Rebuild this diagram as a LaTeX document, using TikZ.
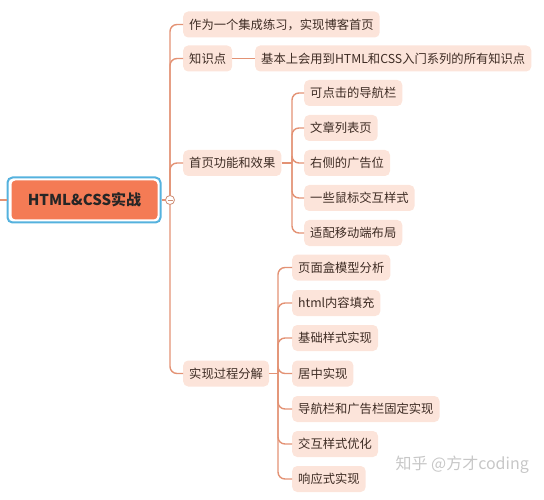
\documentclass[tikz,border=0pt]{standalone}
\usepackage{fontspec}
\setmainfont{Noto Sans CJK SC}
\definecolor{linec}{HTML}{E39274}
\definecolor{boxc}{HTML}{FCE4DA}
\definecolor{txtc}{HTML}{3E2C24}
\definecolor{rootc}{HTML}{F47B55}
\definecolor{rootb}{HTML}{55B2DE}
\begin{document}
\begin{tikzpicture}[x=1pt,y=-1pt,
  topic/.style={rectangle,rounded corners=5pt,fill=boxc,text=txtc,anchor=west,
    minimum height=26pt,inner xsep=6pt,inner ysep=0pt,font=\fontsize{12.3}{14}\selectfont},
  conn/.style={draw=linec,line width=1.4pt,rounded corners=7pt},
  ]
\useasboundingbox (0,0) rectangle (544,500);
% root
\node[rectangle,rounded corners=5pt,draw=rootb,line width=2pt,fill=white,
  minimum width=153pt,minimum height=45pt] (rootout) at (84,200) {};
\node[rectangle,rounded corners=4pt,fill=rootc,minimum width=146pt,minimum height=39pt,
  font=\fontsize{15}{18}\selectfont\bfseries,text=black!85] (root) at (84.5,200) {HTML\&CSS实战};
\coordinate (lstub) at (0,200);
\draw[linec,line width=1.4pt] (lstub) -- (rootout.west);
\coordinate (t) at (170,200);
% level 1
\node[topic] (a1) at (183,24.5) {作为一个集成练习，实现博客首页};
\node[topic] (a2) at (183,58.5) {知识点};
\node[topic] (a2b) at (255,58.5) {基本上会用到HTML和CSS入门系列的所有知识点};
\node[topic] (a3) at (183,163) {首页功能和效果};
\node[topic] (a4) at (183,373.5) {实现过程分解};
\foreach \n in {a1,a2,a3,a4} \draw[conn] (t) |- (\n.west);
\draw[conn] (rootout.east) -- (t);
\draw[conn] (a2.east) -- (a2b.west);
% level 2 (homepage)
\coordinate (h) at (292,163);
\node[topic] (b1) at (304,93) {可点击的导航栏};
\node[topic] (b2) at (304,128) {文章列表页};
\node[topic] (b3) at (304,163) {右侧的广告位};
\node[topic] (b4) at (304,198) {一些鼠标交互样式};
\node[topic] (b5) at (304,233) {适配移动端布局};
\draw[conn] (a3.east) -- (h);
\foreach \n in {b1,b2,b3,b4,b5} \draw[conn] (h) |- (\n.west);
% level 2 (process)
\coordinate (p) at (278,373.5);
\node[topic] (c1) at (292,267.5) {页面盒模型分析};
\node[topic] (c2) at (292,303) {html内容填充};
\node[topic] (c3) at (292,338) {基础样式实现};
\node[topic] (c4) at (292,373.5) {居中实现};
\node[topic] (c5) at (292,409) {导航栏和广告栏固定实现};
\node[topic] (c6) at (292,444) {交互样式优化};
\node[topic] (c7) at (292,479) {响应式实现};
\draw[conn] (a4.east) -- (p);
\foreach \n in {c1,c2,c3,c4,c5,c6,c7} \draw[conn] (p) |- (\n.west);
% collapse marker
\node[circle,draw=linec!80!gray,fill=white,line width=0.8pt,minimum size=9pt,inner sep=0pt] (col) at (t) {};
\draw[linec!80!gray,line width=0.8pt] ([xshift=-2.5pt]col.center) -- ([xshift=2.5pt]col.center);
% watermark
\node[text=black!22,font=\fontsize{16}{18}\selectfont,anchor=west] (wm) at (392,465) {知乎 @方才coding};
\end{tikzpicture}
\end{document}
